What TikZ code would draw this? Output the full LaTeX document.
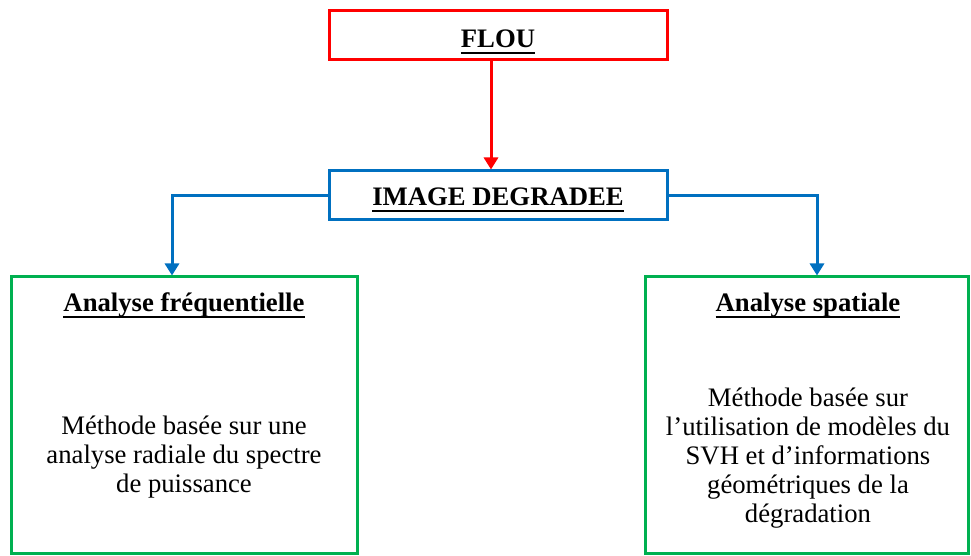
\documentclass[tikz,border=0pt]{standalone}
\usepackage{fontspec}
\setmainfont{Liberation Serif}
\usepackage{xcolor}
\usetikzlibrary{arrows.meta}

\definecolor{flred}{HTML}{FF0000}
\definecolor{imblue}{HTML}{0070C0}
\definecolor{angreen}{HTML}{00B050}

% underline close to the baseline
\newcommand{\ulbox}[1]{\setbox0\hbox{#1}\rlap{\rule[-3pt]{\wd0}{0.9pt}}\box0}

\begin{document}
\begin{tikzpicture}[x=0.5pt, y=-0.5pt,
    every node/.style={font=\fontsize{13.35}{14.4}\selectfont, inner sep=0pt},
    redbox/.style={draw=flred, line width=1.5pt, minimum width=169pt, minimum height=24.5pt},
    bluebox/.style={draw=imblue, line width=1.5pt, minimum width=169pt, minimum height=24.5pt},
    greenbox/.style={draw=angreen, line width=1.5pt, minimum height=138pt},
    heading/.style={font=\fontsize{13.35}{14.4}\selectfont\bfseries, anchor=base},
    body/.style={align=center},
    redarrow/.style={draw=flred, line width=1.5pt, -{Triangle[width=7pt,length=6pt]}},
    bluearrow/.style={draw=imblue, line width=1.5pt, -{Triangle[width=7pt,length=6pt]}}]
    \useasboundingbox (0,0) rectangle (971,556);

    % Top boxes
    \node[redbox] (flou) at (498,35.5) {};
    \node[bluebox] (image) at (498,195.5) {};
    \node[heading] (floutitle) at (498,48) {\ulbox{FLOU}};
    \node[heading] (imagetitle) at (498,206) {\ulbox{IMAGE DEGRADEE}};

    % Analysis boxes
    \node[greenbox, minimum width=173pt] (freq) at (184,415) {};
    \node[greenbox, minimum width=161.5pt] (spat) at (806.5,415) {};

    \node[heading] (freqtitle) at (184,312) {\ulbox{Analyse fréquentielle}};
    \node[heading] (spattitle) at (808,312) {\ulbox{Analyse spatiale}};

    \node[body] (freqtext) at (184,457) {Méthode basée sur une\\ analyse radiale du spectre\\ de puissance};
    \node[body] (spattext) at (808,458) {Méthode basée sur\\ l’utilisation de modèles du\\ SVH et d’informations\\ géométriques de la\\ dégradation};

    % Arrows
    \draw[redarrow] ([xshift=-3.5pt]flou.south) -- ([xshift=-3.5pt]image.north);
    \draw[bluearrow] (image.west) -| ([xshift=-6pt]freq.north);
    \draw[bluearrow] (image.east) -| ([xshift=5.25pt]spat.north);
\end{tikzpicture}
\end{document}
